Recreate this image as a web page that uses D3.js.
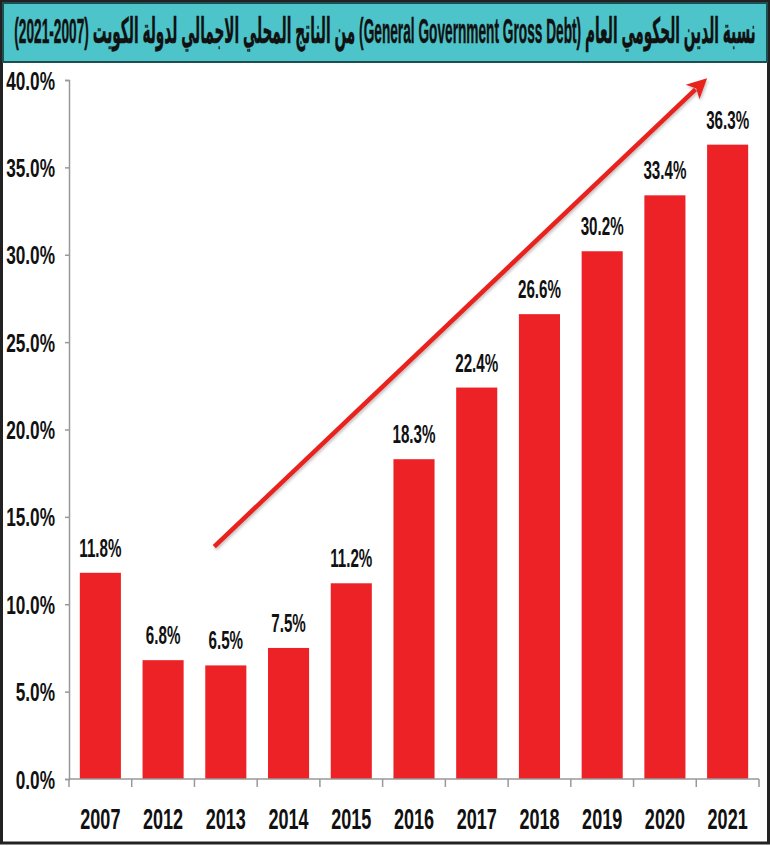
<!DOCTYPE html>
<html>
<head>
<meta charset="utf-8">
<script src="https://cdn.jsdelivr.net/npm/d3@7"></script>
<style>
  body { margin: 0; background: #fff; }
  svg { display: block; }
  .narrow { font-family: "Liberation Sans", Arial, "DejaVu Sans", sans-serif; font-weight: bold; }
</style>
</head>
<body>
<div id="chart"></div>
<script>
(function () {

  // Data
  const years = ["2007","2012","2013","2014","2015","2016","2017","2018","2019","2020","2021"]
  const debtRatio = [11.8, 6.8, 6.5, 7.5, 11.2, 18.3, 22.4, 26.6, 30.2, 33.4, 36.3]
  const yTicks = [0, 5, 10, 15, 20, 25, 30, 35, 40]
  const titleText = "نسبة الدين الحكومي العام (General Government Gross Debt) من الناتج المحلي الاجمالي لدولة الكويت (2007-2021)"
  // trend arrow, from / to (category, value)
  const arrowFrom = { year: "2013", value: 13.3 }
  const arrowTo = { year: "2021", value: 40.1 }

  const W = 770, H = 846
  const margin = { top: 80, right: 11, bottom: 67, left: 69 }
  const SX = 0.82  // squeeze Liberation Sans into a narrow face

  const svg = d3.select("#chart").append("svg")
      .attr("width", W)
      .attr("height", H)

  // Frame
  svg.append("rect")
    .attr("x", 1.5).attr("y", 1.5)
    .attr("width", W - 3).attr("height", H - 4.5)
    .attr("fill", "#fff")
    .attr("stroke", "#222")
    .attr("stroke-width", 3)

  // Title box
  svg.append("rect")
    .attr("x", 3).attr("y", 3)
    .attr("width", W - 6).attr("height", 59)
    .attr("fill", "#4cc4c9")
    .attr("stroke", "#1d4f52")
    .attr("stroke-width", 2)

  const title = svg.append("text")
    .attr("class", "narrow")
    .attr("direction", "rtl")
    .attr("text-anchor", "middle")
    .attr("font-size", 22)
    .attr("fill", "#111")
    .attr("stroke", "#111")
    .attr("stroke-width", 0.3)
    .text(titleText)
  const tw = title.node().getComputedTextLength()
  title.attr("transform", `translate(${W / 2},43) scale(${742 / tw},1.6)`)

  const x = d3.scaleBand()
    .domain(years)
    .range([margin.left, W - margin.right])
    .paddingInner(0.345)
    .paddingOuter(0.1725)

  const y = d3.scaleLinear()
    .domain([0, 40])
    .range([H - margin.bottom, margin.top])

  const g = svg.append("g")

  // Bars
  g.selectAll("rect.bar")
    .data(years)
    .join("rect")
    .attr("class", "bar")
    .attr("x", d => x(d))
    .attr("width", x.bandwidth())
    .attr("y", (d, i) => y(debtRatio[i]))
    .attr("height", (d, i) => y(0) - y(debtRatio[i]))
    .attr("fill", "#ed2226")

  // Value labels
  g.selectAll("text.val")
    .data(years)
    .join("text")
    .attr("class", "val narrow")
    .attr("text-anchor", "middle")
    .attr("font-size", 18.5)
    .attr("fill", "#111")
    .attr("transform", (d, i) => `translate(${x(d) + x.bandwidth() / 2},${y(debtRatio[i]) - 16}) scale(${SX},1.4)`)
    .text((d, i) => debtRatio[i].toFixed(1) + "%")

  // Y axis
  const yAxis = g.append("g")
    .attr("transform", `translate(${margin.left},0)`)
    .call(d3.axisLeft(y).tickValues(yTicks).tickSize(4).tickFormat(d => d.toFixed(1) + "%"))
  yAxis.select(".domain").attr("stroke", "#999").attr("stroke-width", 1.5)
  yAxis.selectAll(".tick line").attr("stroke", "#999").attr("stroke-width", 1.5)
  yAxis.selectAll(".tick text")
    .attr("class", "narrow")
    .attr("font-size", 21)
    .attr("fill", "#111")
    .attr("dy", null)
    .attr("x", 0)
    .attr("y", 0)
    .attr("transform", `translate(-14,9) scale(${SX},1.2)`)

  // X axis
  const base = y(0)
  g.append("line")
    .attr("x1", margin.left).attr("x2", W - margin.right)
    .attr("y1", base).attr("y2", base)
    .attr("stroke", "#999").attr("stroke-width", 1.5)

  const half = x.step() * x.paddingInner() / 2
  const bounds = years.map(d => x(d) - half).concat([W - margin.right])
  g.selectAll("line.xtick")
    .data(bounds)
    .join("line")
    .attr("class", "xtick")
    .attr("x1", d => d).attr("x2", d => d)
    .attr("y1", base).attr("y2", base + 8)
    .attr("stroke", "#999").attr("stroke-width", 1.5)

  g.selectAll("text.year")
    .data(years)
    .join("text")
    .attr("class", "year narrow")
    .attr("text-anchor", "middle")
    .attr("font-size", 22)
    .attr("fill", "#111")
    .attr("transform", d => `translate(${x(d) + x.bandwidth() / 2},${base + 50}) scale(${SX},1.3)`)
    .text(d => d)

  // Trend arrow
  const defs = svg.append("defs")
  defs.append("filter").attr("id", "shadow")
    .append("feDropShadow")
    .attr("dx", 1).attr("dy", 2).attr("stdDeviation", 1.5)
    .attr("flood-color", "#000").attr("flood-opacity", 0.25)

  const x0 = x(arrowFrom.year) + 9, y0 = y(arrowFrom.value)
  const x1 = x(arrowTo.year), y1 = y(arrowTo.value)
  const ang = Math.atan2(y1 - y0, x1 - x0)
  const headLen = 20, headW = 10
  const bx = x1 - headLen * Math.cos(ang), by = y1 - headLen * Math.sin(ang)
  const arrow = g.append("g").attr("filter", "url(#shadow)")
  arrow.append("line")
    .attr("x1", x0).attr("y1", y0)
    .attr("x2", bx + 4 * Math.cos(ang)).attr("y2", by + 4 * Math.sin(ang))
    .attr("stroke", "#e8201f").attr("stroke-width", 4.5)
  arrow.append("path")
    .attr("d", `M${x1},${y1}L${bx - headW * Math.sin(ang)},${by + headW * Math.cos(ang)}L${bx + 5 * Math.cos(ang)},${by + 5 * Math.sin(ang)}L${bx + headW * Math.sin(ang)},${by - headW * Math.cos(ang)}Z`)
    .attr("fill", "#e8201f")

})();
</script>
</body>
</html>
